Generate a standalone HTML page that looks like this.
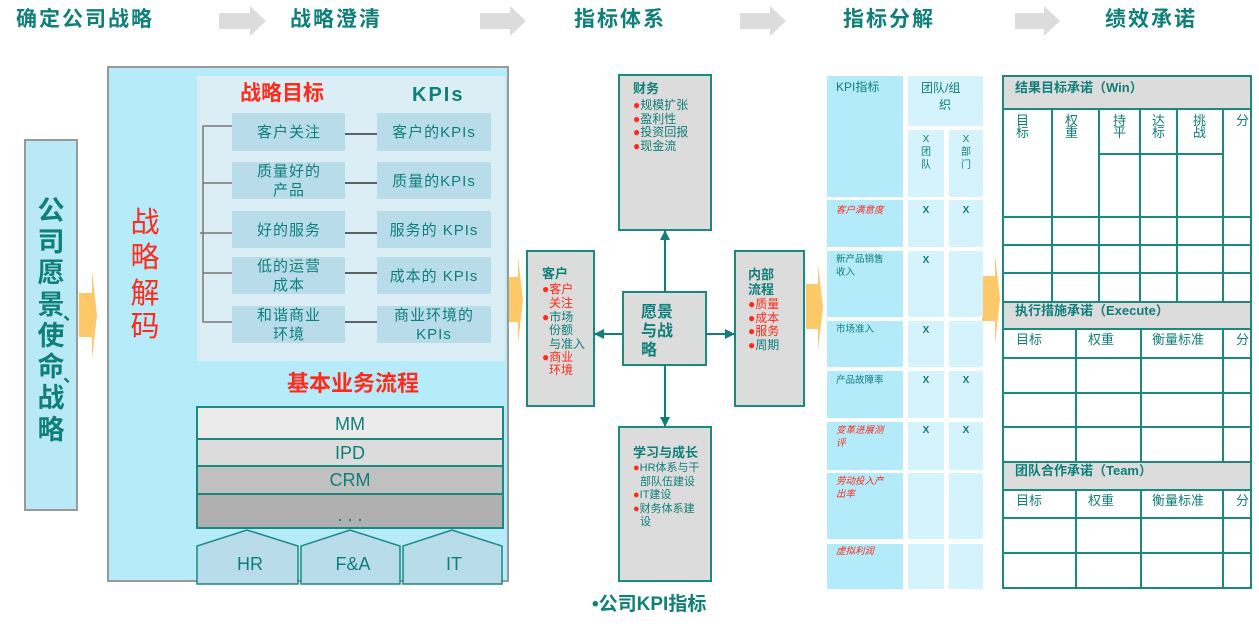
<!DOCTYPE html>
<html><head><meta charset="utf-8"><style>
html,body{margin:0;padding:0;background:#fff;}
svg{display:block;font-family:"Liberation Sans","Noto Sans CJK SC",sans-serif;}
.t{fill:#0f7f7a;}
.r{fill:#ff2a1a;}
.b{font-weight:bold;}
</style></head><body>
<svg width="1259" height="627" viewBox="0 0 1259 627" xmlns="http://www.w3.org/2000/svg">
<defs>
<marker id="ah" markerWidth="10" markerHeight="10" refX="9" refY="5" orient="auto" markerUnits="userSpaceOnUse"><path d="M0,0 L10,5 L0,10 z" fill="#0f7f7a"/></marker>
</defs>
<!-- header -->
<g class="t b" font-size="21" letter-spacing="2">
<text x="16" y="26">确定公司战略</text>
<text x="290" y="26">战略澄清</text>
<text x="574" y="26">指标体系</text>
<text x="843" y="26">指标分解</text>
<text x="1105" y="26">绩效承诺</text>
</g>
<g fill="#dcdcdc">
<path d="M219,13 H250 V6 L266,21 L250,36 V29 H219 z"/>
<path d="M480,13 H510 V6 L526,21 L510,36 V29 H480 z"/>
<path d="M740,13 H770 V6 L786,21 L770,36 V29 H740 z"/>
<path d="M1015,13 H1044 V6 L1060,21 L1044,36 V29 H1015 z"/>
</g>
<!-- left vision box -->
<rect x="25" y="140" width="52" height="370" fill="#b9e9f5" stroke="#999" stroke-width="2"/>
<g class="t b" font-size="27" text-anchor="middle">
<text x="51" y="220">公</text><text x="51" y="251">司</text><text x="51" y="282">愿</text><text x="51" y="314">景</text>
<text x="51" y="345">使</text><text x="51" y="376">命</text><text x="51" y="407">战</text><text x="51" y="439">略</text>
<text x="72" y="320" font-size="18">、</text><text x="72" y="382" font-size="18">、</text>
</g>
<!-- orange arrows -->
<g fill="#fcc868">
<path d="M79,293 H92 V271 L97,315 L92,359 V337 H79 z"/>
<path d="M505,277 H518 V257 L523,300 L518,344 V322 H505 z"/>
<path d="M806,284 H818 V264 L823,307 L818,350 V329 H806 z"/>
<path d="M982,276 H995 V254 L1000,299 L995,344 V321 H982 z"/>
</g>
<!-- main box -->
<rect x="108" y="67" width="400" height="514" fill="#b6ebfa" stroke="#999" stroke-width="2"/>
<rect x="197" y="76" width="308" height="285" fill="#dbeef5"/>
<text x="240" y="100" class="r b" font-size="21">战略目标</text>
<text x="412" y="101" class="t b" font-size="20" letter-spacing="2">KPIs</text>
<g class="r" font-size="29" text-anchor="middle">
<text x="145" y="232">战</text><text x="145" y="267">略</text><text x="145" y="303">解</text><text x="145" y="336">码</text>
</g>
<path d="M232,126 H203 V322 H232 M203,183 H232 M200,233 H232 M203,273 H232" stroke="#777" stroke-width="1.5" fill="none"/>
<g stroke="#333" stroke-width="1.5">
<line x1="345" y1="134" x2="377" y2="134"/><line x1="345" y1="183" x2="377" y2="183"/>
<line x1="345" y1="233" x2="377" y2="233"/><line x1="345" y1="273" x2="377" y2="273"/>
<line x1="345" y1="322" x2="377" y2="322"/>
</g>
<g fill="#b8dcea">
<rect x="232" y="113" width="113" height="38"/><rect x="232" y="162" width="113" height="37"/>
<rect x="232" y="211" width="113" height="37"/><rect x="232" y="257" width="113" height="37"/>
<rect x="232" y="306" width="113" height="37"/>
<rect x="377" y="113" width="114" height="38"/><rect x="377" y="162" width="114" height="37"/>
<rect x="377" y="211" width="114" height="37"/><rect x="377" y="257" width="114" height="37"/>
<rect x="377" y="306" width="114" height="37"/>
</g>
<g class="t" font-size="15" text-anchor="middle" letter-spacing="1">
<text x="289" y="137">客户关注</text>
<text x="289" y="176">质量好的</text><text x="289" y="195">产品</text>
<text x="289" y="235">好的服务</text>
<text x="289" y="271">低的运营</text><text x="289" y="290">成本</text>
<text x="289" y="320">和谐商业</text><text x="289" y="339">环境</text>
<text x="434" y="137">客户的KPIs</text>
<text x="434" y="186">质量的KPIs</text>
<text x="434" y="235">服务的 KPIs</text>
<text x="434" y="281">成本的 KPIs</text>
<text x="434" y="320">商业环境的</text><text x="434" y="339">KPIs</text>
</g>
<text x="353" y="391" class="r b" font-size="22" text-anchor="middle">基本业务流程</text>
<g stroke="#1a8a80" stroke-width="2">
<rect x="197" y="407" width="306" height="32" fill="#ebebeb"/>
<rect x="197" y="439" width="306" height="27" fill="#dcdcdc"/>
<rect x="197" y="466" width="306" height="28" fill="#c0c0c0"/>
<rect x="197" y="494" width="306" height="34" fill="#b0b0b0"/>
</g>
<g class="t" font-size="18" text-anchor="middle">
<text x="350" y="430">MM</text><text x="350" y="459">IPD</text><text x="350" y="486">CRM</text><text x="350" y="521">. . .</text>
</g>
<g fill="#b8dcea" stroke="#1a8a80" stroke-width="1.5">
<path d="M197,584 V546 L247,530 L298,546 V584 z"/>
<path d="M301,584 V546 L350,530 L400,546 V584 z"/>
<path d="M403,584 V546 L452,530 L502,546 V584 z"/>
</g>
<g class="t" font-size="18" text-anchor="middle">
<text x="250" y="570">HR</text><text x="353" y="570">F&amp;A</text><text x="454" y="570">IT</text>
</g>
<!-- middle BSC -->
<g fill="#dcdcdc" stroke="#1a8a80" stroke-width="2">
<rect x="619" y="75" width="92" height="155"/>
<rect x="623" y="292" width="83" height="73"/>
<rect x="619" y="427" width="92" height="154"/>
<rect x="527" y="251" width="67" height="155"/>
<rect x="735" y="251" width="69" height="155"/>
</g>
<g stroke="#0f7f7a" stroke-width="2" marker-end="url(#ah)">
<line x1="665" y1="292" x2="665" y2="231"/>
<line x1="665" y1="365" x2="665" y2="426"/>
<line x1="623" y1="334" x2="595" y2="334"/>
<line x1="706" y1="334" x2="734" y2="334"/>
</g>
<g font-size="12">
<text x="633" y="93" class="t b" font-size="13">财务</text>
<text x="633" y="109" class="t"><tspan class="r">●</tspan>规模扩张</text>
<text x="633" y="123" class="t"><tspan class="r">●</tspan>盈利性</text>
<text x="633" y="136" class="t"><tspan class="r">●</tspan>投资回报</text>
<text x="633" y="150" class="t"><tspan class="r">●</tspan>现金流</text>
<text x="542" y="278" class="t b" font-size="13">客户</text>
<text x="542" y="293" class="r">●客户</text>
<text x="549" y="307" class="r">关注</text>
<text x="542" y="321" class="t"><tspan class="r">●</tspan>市场</text>
<text x="549" y="334" class="t">份额</text>
<text x="549" y="348" class="t">与准入</text>
<text x="542" y="361" class="r">●商业</text>
<text x="549" y="374" class="r">环境</text>
<text x="641" y="317" class="t b" font-size="16">愿景</text>
<text x="641" y="336" class="t b" font-size="16">与战</text>
<text x="641" y="355" class="t b" font-size="16">略</text>
<text x="748" y="279" class="t b" font-size="13">内部</text>
<text x="748" y="294" class="t b" font-size="13">流程</text>
<text x="748" y="308" class="r">●质量</text>
<text x="748" y="322" class="r">●成本</text>
<text x="748" y="335" class="r">●服务</text>
<text x="748" y="349" class="t"><tspan class="r">●</tspan>周期</text>
<text x="633" y="457" class="t b" font-size="13">学习与成长</text>
<text x="633" y="471" class="t" font-size="11"><tspan class="r">●</tspan>HR体系与干</text>
<text x="640" y="485" class="t" font-size="11">部队伍建设</text>
<text x="633" y="498" class="t" font-size="11"><tspan class="r">●</tspan>IT建设</text>
<text x="633" y="512" class="t" font-size="11"><tspan class="r">●</tspan>财务体系建</text>
<text x="640" y="525" class="t" font-size="11">设</text>
</g>
<text x="592" y="610" class="t b" font-size="19">•公司KPI指标</text>
<!-- table 1 -->
<g fill="#b3ebfb">
<rect x="827" y="76" width="76" height="121"/>
<rect x="827" y="200" width="76" height="47"/><rect x="827" y="251" width="76" height="66"/>
<rect x="827" y="321" width="76" height="46"/><rect x="827" y="371" width="76" height="47"/>
<rect x="827" y="422" width="76" height="48"/><rect x="827" y="473" width="76" height="66"/>
<rect x="827" y="544" width="76" height="45"/>
</g>
<g fill="#d5f3fc">
<rect x="908" y="76" width="75" height="50"/>
<rect x="908" y="130" width="36" height="67"/><rect x="949" y="130" width="34" height="67"/>
<rect x="908" y="200" width="36" height="47"/><rect x="949" y="200" width="34" height="47"/>
<rect x="908" y="251" width="36" height="66"/><rect x="949" y="251" width="34" height="66"/>
<rect x="908" y="321" width="36" height="46"/><rect x="949" y="321" width="34" height="46"/>
<rect x="908" y="371" width="36" height="47"/><rect x="949" y="371" width="34" height="47"/>
<rect x="908" y="422" width="36" height="48"/><rect x="949" y="422" width="34" height="48"/>
<rect x="908" y="473" width="36" height="66"/><rect x="949" y="473" width="34" height="66"/>
<rect x="908" y="544" width="36" height="45"/><rect x="949" y="544" width="34" height="45"/>
</g>
<g class="t" font-size="12">
<text x="836" y="91">KPI指标</text>
<text x="921" y="92">团队/组</text>
<text x="945" y="109" text-anchor="middle">织</text>
</g>
<g class="t" font-size="10" text-anchor="middle">
<text x="926" y="142">X</text><text x="926" y="155">团</text><text x="926" y="168">队</text>
<text x="966" y="142">X</text><text x="966" y="155">部</text><text x="966" y="168">门</text>
</g>
<g font-size="9.5">
<text x="836" y="213" class="r" font-style="italic">客户满意度</text>
<text x="836" y="262" class="t">新产品销售</text><text x="836" y="275" class="t">收入</text>
<text x="836" y="332" class="t">市场准入</text>
<text x="836" y="383" class="t">产品故障率</text>
<text x="836" y="433" class="r" font-style="italic">变革进展测</text><text x="836" y="446" class="r" font-style="italic">评</text>
<text x="836" y="484" class="r" font-style="italic">劳动投入产</text><text x="836" y="497" class="r" font-style="italic">出率</text>
<text x="836" y="554" class="r" font-style="italic">虚拟利润</text>
</g>
<g class="t b" font-size="10" text-anchor="middle">
<text x="926" y="213">X</text><text x="966" y="213">X</text>
<text x="926" y="263">X</text>
<text x="926" y="333">X</text>
<text x="926" y="383">X</text><text x="966" y="383">X</text>
<text x="926" y="433">X</text><text x="966" y="433">X</text>
</g>
<!-- table 2 -->
<g fill="#dcdcdc">
<rect x="1003" y="76" width="248" height="33"/>
<rect x="1003" y="302" width="248" height="27"/>
<rect x="1003" y="462" width="248" height="28"/>
</g>
<g stroke="#1a8a80" stroke-width="2" fill="none">
<rect x="1003" y="76" width="248" height="512"/>
<line x1="1003" y1="109" x2="1251" y2="109"/>
<line x1="1099" y1="154" x2="1223" y2="154"/>
<line x1="1003" y1="217" x2="1251" y2="217"/>
<line x1="1003" y1="245" x2="1251" y2="245"/>
<line x1="1003" y1="273" x2="1251" y2="273"/>
<line x1="1003" y1="302" x2="1251" y2="302"/>
<line x1="1003" y1="329" x2="1251" y2="329"/>
<line x1="1003" y1="358" x2="1251" y2="358"/>
<line x1="1003" y1="393" x2="1251" y2="393"/>
<line x1="1003" y1="427" x2="1251" y2="427"/>
<line x1="1003" y1="462" x2="1251" y2="462"/>
<line x1="1003" y1="490" x2="1251" y2="490"/>
<line x1="1003" y1="518" x2="1251" y2="518"/>
<line x1="1003" y1="553" x2="1251" y2="553"/>
<path d="M1052,109 V302 M1099,109 V302 M1140,109 V302 M1177,109 V302 M1223,109 V302"/>
<path d="M1076,329 V462 M1141,329 V462 M1223,329 V462"/>
<path d="M1076,490 V588 M1141,490 V588 M1223,490 V588"/>
</g>
<g class="t" font-size="13">
<text x="1015" y="92" class="b">结果目标承诺（Win）</text>
<text x="1015" y="315" class="b">执行措施承诺（Execute）</text>
<text x="1015" y="475" class="b">团队合作承诺（Team）</text>
<text x="1016" y="125">目</text><text x="1016" y="137">标</text>
<text x="1065" y="125">权</text><text x="1065" y="137">重</text>
<text x="1113" y="125">持</text><text x="1113" y="137">平</text>
<text x="1152" y="125">达</text><text x="1152" y="137">标</text>
<text x="1193" y="125">挑</text><text x="1193" y="137">战</text>
<text x="1236" y="125">分</text>
<text x="1016" y="344">目标</text><text x="1088" y="344">权重</text><text x="1152" y="344">衡量标准</text><text x="1236" y="344">分</text>
<text x="1016" y="505">目标</text><text x="1088" y="505">权重</text><text x="1152" y="505">衡量标准</text><text x="1236" y="505">分</text>
</g>
</svg>
</body></html>
